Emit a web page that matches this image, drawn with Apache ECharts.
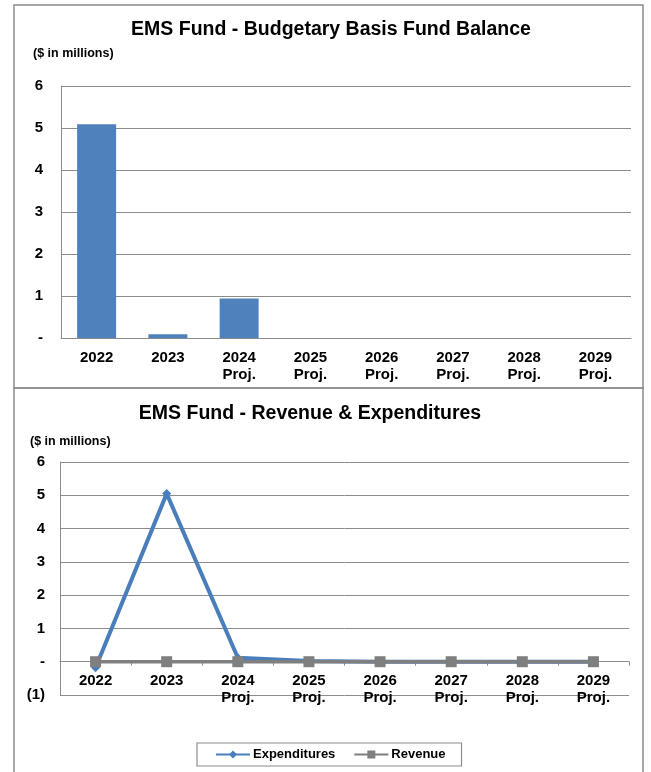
<!DOCTYPE html>
<html>
<head>
<meta charset="utf-8">
<script src="https://cdn.jsdelivr.net/npm/echarts@6/dist/echarts.min.js"></script>
<style>
  html, body { margin: 0; padding: 0; background: #fff; }
  #chart { width: 651px; height: 772px; }
</style>
</head>
<body>
<div id="chart"></div>
<script>
// Fiscal years shown on both panels
const years = ['2022', '2023', '2024\nProj.', '2025\nProj.', '2026\nProj.', '2027\nProj.', '2028\nProj.', '2029\nProj.'];

// Budgetary basis fund balance ($ millions)
const fundBalance = [5.09, 0.09, 0.94, 0, 0, 0, 0, 0];

// Revenue & expenditures ($ millions)
const expenditures = [-0.18, 5.05, 0.12, 0.02, 0, 0, 0, 0];
const revenue = [0, 0, 0, 0, 0, 0, 0, 0];

const FONT = 'Arial, "Liberation Sans", sans-serif';
const gridColor = '#8c8c8c';
const fmtY = v => v === 0 ? '-' : (v < 0 ? '(' + Math.abs(v) + ')' : String(v));

const axisLabelStyle = { color: '#000', fontFamily: FONT, fontWeight: 'bold', fontSize: 15 };

// lower panel: y range -1..6 over 233px, so one unit is 233/7 px
const lowerHeight = 233;
const lowerUnit = lowerHeight / 7;

const chart = echarts.init(document.getElementById('chart'), null, { renderer: 'canvas' });

chart.setOption({
  animation: false,
  backgroundColor: '#fff',
  title: [
    { text: 'EMS Fund - Budgetary Basis Fund Balance', left: 326, top: 15, textAlign: 'center',
      textStyle: { fontFamily: FONT, fontWeight: 'bold', fontSize: 19.5, color: '#000' } },
    { text: '($ in millions)', left: 28, top: 42,
      textStyle: { fontFamily: FONT, fontWeight: 'bold', fontSize: 12.5, color: '#000' } },
    { text: 'EMS Fund - Revenue & Expenditures', left: 305, top: 399, textAlign: 'center',
      textStyle: { fontFamily: FONT, fontWeight: 'bold', fontSize: 19.5, color: '#000' } },
    { text: '($ in millions)', left: 25, top: 430,
      textStyle: { fontFamily: FONT, fontWeight: 'bold', fontSize: 12.5, color: '#000' } }
  ],
  graphic: [
    { type: 'rect', shape: { x: 14, y: 5, width: 629, height: 383 },
      style: { fill: 'none', stroke: '#8c8c8c', lineWidth: 1.5 }, silent: true },
    { type: 'rect', shape: { x: 14, y: 388, width: 629, height: 390 },
      style: { fill: 'none', stroke: '#8c8c8c', lineWidth: 1.5 }, silent: true }
  ],
  grid: [
    { left: 61, right: 20, top: 86, height: 252, containLabel: false },
    { left: 60, right: 22, top: 462, height: lowerHeight, containLabel: false }
  ],
  legend: {
    data: ['Expenditures', 'Revenue'],
    left: 197, top: 743, width: 266,
    itemWidth: 34, itemHeight: 10, itemGap: 18,
    padding: [5, 16, 5, 18],
    borderColor: '#8c8c8c', borderWidth: 1.2,
    textStyle: { fontFamily: FONT, fontWeight: 'bold', fontSize: 13, color: '#000', padding: [0, 0, 0, -2] }
  },
  xAxis: [
    { type: 'category', gridIndex: 0, data: years,
      axisLine: { lineStyle: { color: gridColor, width: 1 } },
      axisTick: { show: false },
      axisLabel: Object.assign({ margin: 11, lineHeight: 17 }, axisLabelStyle) },
    { type: 'category', gridIndex: 1, data: years,
      // category axis sits on the zero line, one unit above the grid bottom
      offset: -lowerUnit,
      axisLine: { onZero: false, lineStyle: { color: gridColor, width: 1 } },
      axisTick: { show: true, alignWithLabel: false, length: 4, lineStyle: { color: gridColor } },
      axisLabel: Object.assign({ margin: 11, lineHeight: 17 }, axisLabelStyle) }
  ],
  yAxis: [
    { type: 'value', gridIndex: 0, min: 0, max: 6, interval: 1,
      axisLine: { show: true, lineStyle: { color: gridColor } },
      axisTick: { show: false },
      splitLine: { lineStyle: { color: gridColor, width: 1 } },
      axisLabel: Object.assign({ margin: 18, formatter: fmtY }, axisLabelStyle) },
    { type: 'value', gridIndex: 1, min: -1, max: 6, interval: 1,
      axisLine: { show: true, lineStyle: { color: gridColor } },
      axisTick: { show: false },
      splitLine: { lineStyle: { color: gridColor, width: 1 } },
      axisLabel: Object.assign({ margin: 15, formatter: fmtY }, axisLabelStyle) }
  ],
  series: [
    { name: 'Fund Balance', type: 'bar', xAxisIndex: 0, yAxisIndex: 0,
      data: fundBalance, barWidth: 39,
      itemStyle: { color: '#4f81bd' } },
    { name: 'Revenue', type: 'line', xAxisIndex: 1, yAxisIndex: 1,
      data: revenue, symbol: 'rect', symbolSize: 11, z: 3,
      lineStyle: { color: '#7f7f7f', width: 3.5 },
      itemStyle: { color: '#7f7f7f' } },
    { name: 'Expenditures', type: 'line', xAxisIndex: 1, yAxisIndex: 1,
      data: expenditures, symbol: 'diamond', symbolSize: 9, z: 2,
      lineStyle: { color: '#4a7ebb', width: 4 },
      itemStyle: { color: '#4a7ebb' } }
  ]
});
</script>
</body>
</html>
